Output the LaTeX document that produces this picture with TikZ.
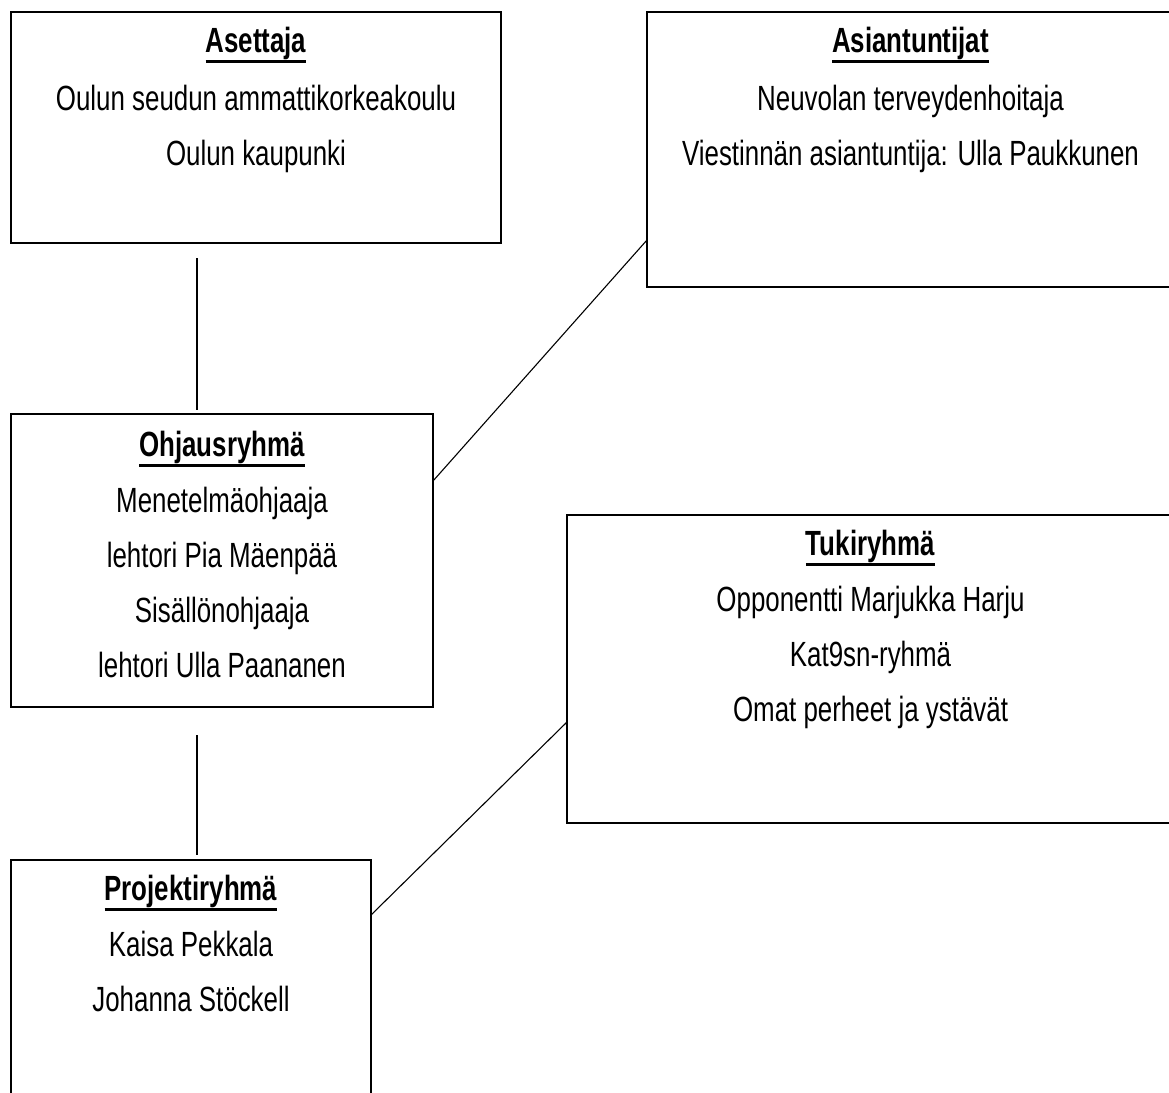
\documentclass[tikz,border=0pt]{standalone}
\usepackage{fontspec}
\newfontfamily\groupfont{Liberation Sans}[FakeStretch=0.74]
\usepackage{tikz}
\usetikzlibrary{positioning,calc}

\newsavebox\headbox
\newcommand{\grouphead}[1]{\sbox\headbox{\textbf{#1}}\rlap{\rule[-10pt]{\wd\headbox}{2.4pt}}\usebox\headbox}

\begin{document}
\begin{tikzpicture}[x=1pt,y=-1pt]

\tikzset{group/.style = {shape=rectangle,draw,line width=1.7pt,anchor=north west,inner sep=0pt,outer sep=0pt}}
\tikzset{grouptext/.style = {anchor=north,align=center,inner sep=0pt,font=\groupfont\fontsize{35}{55}\selectfont}}
\tikzset{link/.style = {line width=1.1pt}}

\useasboundingbox (0,0) rectangle (1169,1092);
\clip (0,0) rectangle (1169,1092);

% boxes
\node[group,minimum width=490pt,minimum height=231pt] (asettaja) at (11,12) {};
\node[group,minimum width=527pt,minimum height=275pt] (asiantuntijat) at (647,12) {};
\node[group,minimum width=422pt,minimum height=293pt] (ohjaus) at (11,414) {};
\node[group,minimum width=607pt,minimum height=308pt] (tuki) at (567,515) {};
\node[group,minimum width=360pt,minimum height=234pt] (projekti) at (11,860) {};

% texts
\node[grouptext] (asettajaText) at ([yshift=-15pt]asettaja.north)
  {\grouphead{Asettaja}\\[3pt] Oulun seudun ammattikorkeakoulu\\ Oulun kaupunki};
\node[grouptext] (asiantuntijatText) at ([yshift=-15pt]asiantuntijat.north)
  {\grouphead{Asiantuntijat}\\[3pt] Neuvolan terveydenhoitaja\\ Viestinnän asiantuntija: Ulla Paukkunen};
\node[grouptext] (ohjausText) at ([yshift=-17pt]ohjaus.north)
  {\grouphead{Ohjausryhmä}\\[1pt] Menetelmäohjaaja\\ lehtori Pia Mäenpää\\ Sisällönohjaaja\\ lehtori Ulla Paananen};
\node[grouptext] (tukiText) at ([yshift=-15pt]tuki.north)
  {\grouphead{Tukiryhmä}\\[1pt] Opponentti Marjukka Harju\\ Kat9sn-ryhmä\\ Omat perheet ja ystävät};
\node[grouptext] (projektiText) at ([yshift=-15pt]projekti.north)
  {\grouphead{Projektiryhmä}\\[1pt] Kaisa Pekkala\\ Johanna Stöckell};

%lines
\draw[link] ([xshift=186pt,yshift=-15pt]asettaja.south west) -- ([xshift=186pt,yshift=4pt]ohjaus.north west);
\draw[link] ([yshift=-67pt]ohjaus.north east) -- ([yshift=47pt]asiantuntijat.south west);
\draw[link] ([xshift=186pt,yshift=-28pt]ohjaus.south west) -- ([xshift=186pt,yshift=5pt]projekti.north west);
\draw[link] ([yshift=-55pt]projekti.north east) -- ([yshift=-207pt]tuki.north west);
\end{tikzpicture}
\end{document}
